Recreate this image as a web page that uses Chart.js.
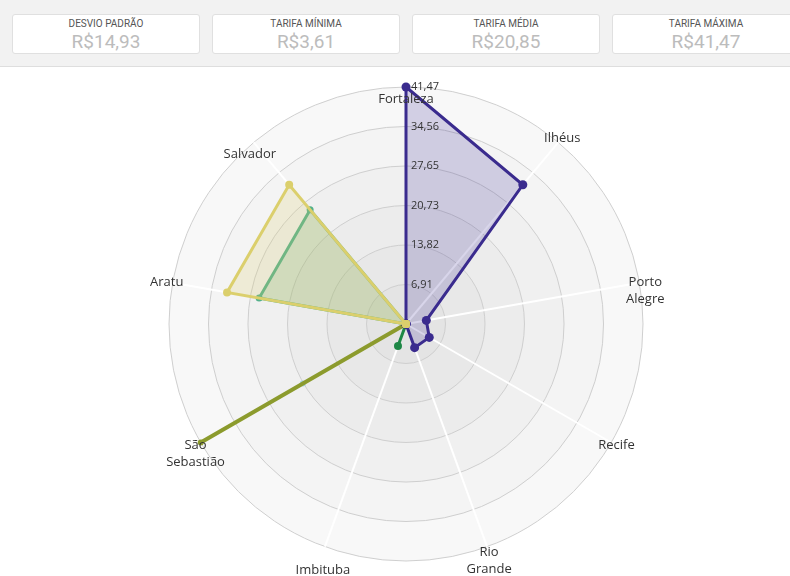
<!DOCTYPE html>
<html lang="pt-BR">
<head>
<meta charset="utf-8">
<title>Tarifas por porto</title>
<script src="https://cdn.jsdelivr.net/npm/chart.js@4/dist/chart.umd.min.js"></script>
<style>
    body { margin: 0; background: #fff; width: 790px; height: 576px; overflow: hidden; }
    .kpis { position: relative; height: 66px; background: #f2f2f2; border-bottom: 1px solid #dedede; overflow: hidden; }
    .card { position: absolute; top: 14px; width: 186px; height: 38px; background: #fff; border: 1px solid #e0e0e0; border-radius: 3px; text-align: center; font-family: "Liberation Sans Narrow", "Roboto", sans-serif; }
    .card .titulo { margin-top: 3px; font-size: 10px; color: #555; }
    .card .valor { margin-top: 1px; font-size: 19px; color: #bcbcbc; }
    #grafico { display: block; }
</style>
</head>
<body>
<div class="kpis" id="kpis"></div>
<canvas id="grafico" width="790" height="509"></canvas>
<script>
const indicadores = ['DESVIO PADRÃO', 'TARIFA MÍNIMA', 'TARIFA MÉDIA', 'TARIFA MÁXIMA'];
const indicadoresValores = ['R$14,93', 'R$3,61', 'R$20,85', 'R$41,47'];

const categorias = [['Fortaleza'], ['Ilhéus'], ['Porto', 'Alegre'], ['Recife'], ['Rio', 'Grande'], ['Imbituba'], ['São', 'Sebastião'], ['Aratu'], ['Salvador']];
const ticksValores = [0, 6.91, 13.82, 20.73, 27.65, 34.56, 41.47];
const ticksTextos = ['', '6,91', '13,82', '20,73', '27,65', '34,56', '41,47'];

const serieAmarela = [0, 0, 0, 0, 0, 0, 0, 31.8, 31.8];
const serieVerdeAgua = [0, 0, 0, 0, 0, 0, 0, 26.1, 26.1];
const serieRoxa = [41.47, 31.8, 3.61, 4.7, 4.4, 0, 0, 0, 0];
const serieVerde = [0, 0, 0, 0, 0, 4.1, 0, 0, 0];
const serieOliva = [0, 0, 0, 0, 0, 0, 41.47, 0, 0];
const serieDestaque = [null, null, null, null, null, null, 20.85, null, null];

// monta os cartões do topo
const kpis = document.getElementById('kpis');
indicadores.forEach((t, i) => {
    const d = document.createElement('div');
    d.className = 'card';
    d.style.left = (12 + i * 200) + 'px';
    d.innerHTML = `<div class="titulo">${t}</div><div class="valor">${indicadoresValores[i]}</div>`;
    kpis.appendChild(d);
});

const fundos = ['#e4e4e4', '#e8e8e8', '#ececec', '#f0f0f0', '#f4f4f4', '#f8f8f8'];
const ajusteRotulo = [18, 0, 0, 0, 0, 18, 0, 0, 16];

const fundoRadar = {
    id: 'fundoRadar',
    beforeDraw(chart) {
        const s = chart.scales.r;
        const ctx = chart.ctx;
        ctx.save();
        for (let i = ticksValores.length - 1; i >= 1; i--) {
            ctx.beginPath();
            ctx.arc(s.xCenter, s.yCenter, s.getDistanceFromCenterForValue(ticksValores[i]), 0, Math.PI * 2);
            ctx.fillStyle = fundos[i - 1];
            ctx.fill();
        }
        ctx.restore();
    }
};

const rotulos = {
    id: 'rotulos',
    afterDraw(chart) {
        const s = chart.scales.r;
        const ctx = chart.ctx;
        ctx.save();
        ctx.fillStyle = '#333';
        ctx.textBaseline = 'middle';
        ctx.font = '11px "Open Sans"';
        ctx.textAlign = 'left';
        ticksValores.forEach((v, i) => {
            ctx.fillText(ticksTextos[i], s.xCenter + 5, s.yCenter - s.getDistanceFromCenterForValue(v));
        });
        ctx.font = '13px "Open Sans"';
        ctx.textAlign = 'center';
        categorias.forEach((linhas, i) => {
            const p = s.getPointPosition(i, s.drawingArea + 6);
            linhas.forEach((t, j) => ctx.fillText(t, p.x, p.y + ajusteRotulo[i] + j * 17));
        });
        ctx.restore();
    }
};

function serie(dados, cor, fundo, largura, raio) {
    return {
        data: dados,
        borderColor: cor,
        backgroundColor: fundo,
        pointBackgroundColor: cor,
        pointBorderColor: cor,
        pointBorderWidth: 0,
        pointRadius: raio,
        borderWidth: largura,
        fill: fundo !== 'transparent'
    };
}

const ctx = document.getElementById('grafico').getContext('2d');
new Chart(ctx, {
    type: 'radar',
    data: {
        labels: categorias,
        datasets: [
            serie(serieAmarela, '#dbcf6c', 'rgba(220, 205, 110, 0.22)', 3, 4),
            serie(serieVerdeAgua, '#52b08a', 'rgba(90, 165, 110, 0.22)', 3, 3.5),
            serie(serieRoxa, '#3a2b8e', 'rgba(60, 45, 150, 0.2)', 3, 4.5),
            serie(serieVerde, '#1e8746', 'transparent', 3, 4),
            serie(serieOliva, '#8c9b2d', 'transparent', 4, 3),
            Object.assign(serie(serieDestaque, 'rgba(150, 205, 220, 0.8)', 'transparent', 0, 3), { showLine: false })
        ]
    },
    options: {
        responsive: false,
        animation: false,
        layout: { padding: { left: 169, right: 147, top: 20, bottom: 15 } },
        plugins: {
            legend: { display: false },
            tooltip: { enabled: false }
        },
        scales: {
            r: {
                min: 0,
                max: 41.47,
                afterBuildTicks: (scale) => {
                    scale.ticks = ticksValores.map(v => ({ value: v }));
                },
                ticks: { display: false },
                pointLabels: { display: false },
                grid: { circular: true, color: '#cfcfcf', lineWidth: 1 },
                angleLines: { color: '#ffffff', lineWidth: 2 }
            }
        }
    },
    plugins: [fundoRadar, rotulos]
});
</script>
</body>
</html>
